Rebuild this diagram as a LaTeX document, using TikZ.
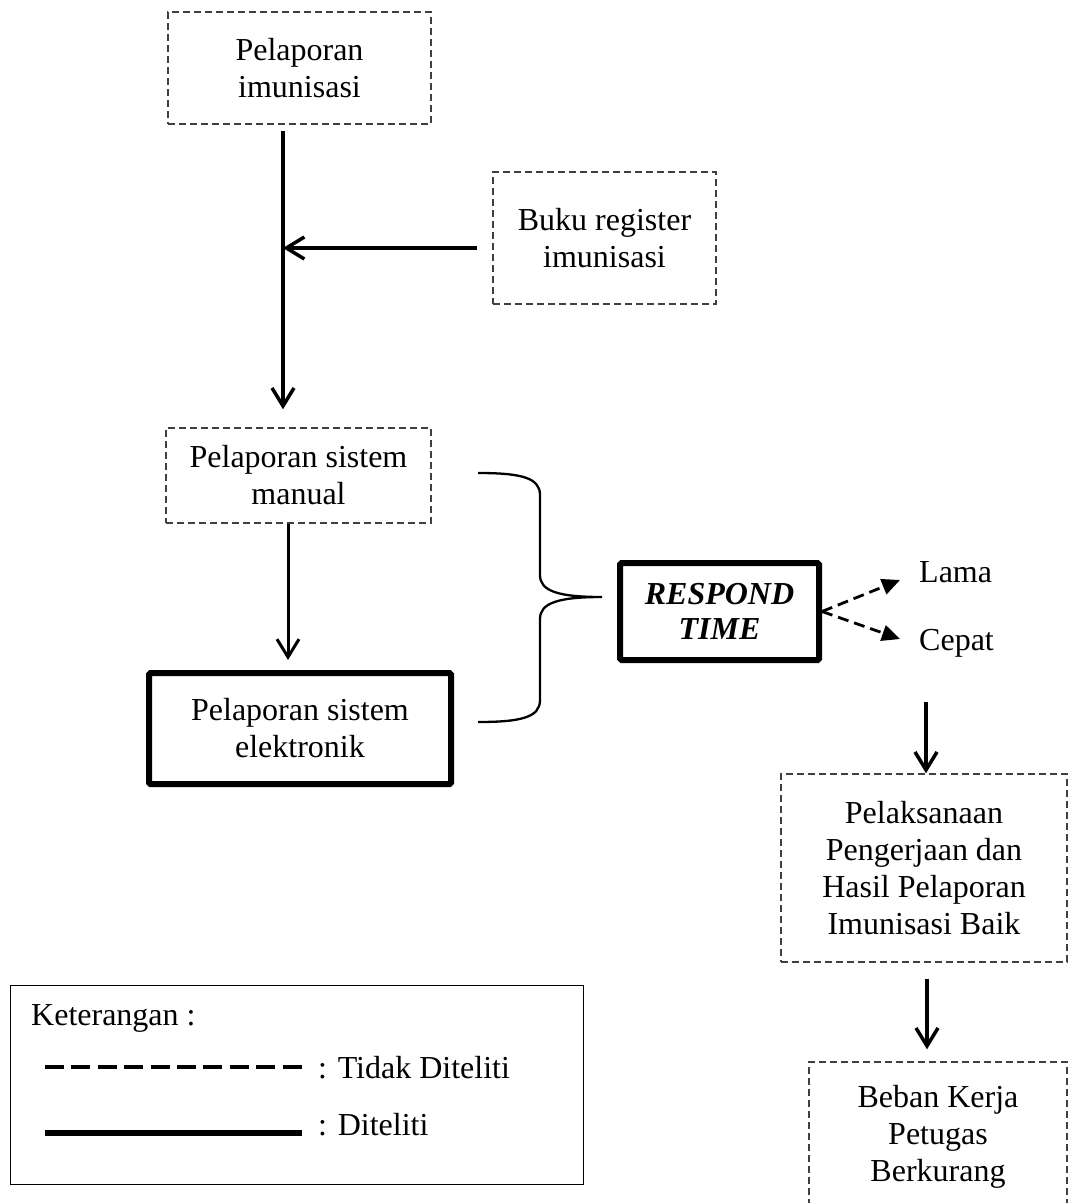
\documentclass[tikz,border=0pt]{standalone}
\usepackage{fontspec}
\setmainfont{Liberation Serif}
\usetikzlibrary{arrows.meta,calc}
\begin{document}
\begin{tikzpicture}[x=1pt,y=-1pt,
  txt/.style={font=\fontsize{32}{37}\selectfont, align=center, inner sep=0pt},
  dbox/.style={txt, draw=black!75, line width=1.4pt, dash pattern=on 7pt off 4pt},
  tbox/.style={txt, draw=black, line width=6pt, rounded corners=1.5pt},
  arr/.style={line width=3.5pt, -{Straight Barb[length=18pt,width=22pt]}},
  darr/.style={line width=2.8pt, dash pattern=on 11pt off 6pt, -{Triangle[length=18pt,width=16pt]}},
  bracestyle/.style={line width=2.3pt}]
\useasboundingbox (0,0) rectangle (1069,1203);
\clip (0,0) rectangle (1069,1203);

% boxes
\node[dbox, minimum width=263pt, minimum height=112pt] (p1) at (299.5,68) {Pelaporan\\imunisasi};
\node[dbox, minimum width=223pt, minimum height=132pt] (buku) at (604.5,238) {Buku register\\imunisasi};
\node[dbox, minimum width=265pt, minimum height=95pt] (p3) at (298.5,475.5) {Pelaporan sistem\\manual};
\node[tbox, minimum width=302pt, minimum height=111pt] (p4) at (300,728.5) {Pelaporan sistem\\elektronik};
\node[tbox, minimum width=199pt, minimum height=97pt, font=\fontsize{32}{35}\selectfont\bfseries\itshape] (resp) at (719.5,611.5) {RESPOND\\TIME};
\node[txt, anchor=base west] (lama) at (919,582) {Lama};
\node[txt, anchor=base west] (cepat) at (919,650) {Cepat};
\node[dbox, minimum width=286pt, minimum height=188pt] (p6) at (924,868) {Pelaksanaan\\Pengerjaan dan\\Hasil Pelaporan\\Imunisasi Baik};
\node[dbox, minimum width=258pt, minimum height=150pt] (p7) at (938,1137) {Beban Kerja\\Petugas\\Berkurang};

% connectors
\coordinate (j) at (283,248);
\draw[arr, shorten <=6pt, shorten >=18pt] (p1.south -| j) -- (p3.north -| j);
\draw[arr, shorten <=15pt] (buku.west |- j) -- (j);
\coordinate (c3) at (288,524);
\draw[arr, line width=3pt, shorten >=10pt] (p3.south -| c3) -- (p4.north -| c3);

% brace
\coordinate (bt) at (478,473);
\coordinate (bb) at (478,722);
\coordinate (btip) at (602,597);
\draw[bracestyle] (bt) .. controls (522,473) and (540,478) .. (540,495) -- (540,575)
  .. controls (540,591) and (558,597) .. (btip)
  .. controls (558,597) and (540,603) .. (540,619) -- (540,700)
  .. controls (540,717) and (522,722) .. (bb);

% dashed arrows
\coordinate (lt) at (900,580);
\coordinate (ct) at (900,639);
\draw[darr] (resp.east) -- (lt);
\draw[darr] (resp.east) -- (ct);

% lower arrows
\coordinate (c6) at (926,702);
\draw[arr] (c6) -- (p6.north -| c6);
\coordinate (c7) at (927,979);
\draw[arr, shorten >=12pt] (c7) -- (p7.north -| c7);

% legend
\node[draw=black, line width=1.3pt, minimum width=573pt, minimum height=199pt, inner sep=0pt] (leg) at (297,1085) {};
\node[txt, anchor=base west] (ket) at (31,1025) {Keterangan :};
\coordinate (d1) at (45,1067);
\coordinate (d2) at (302,1067);
\draw[line width=3.2pt, dash pattern=on 19pt off 7.4pt] (d1) -- (d2);
\node[txt, anchor=base west] (tdk) at (318,1078) {: Tidak Diteliti};
\coordinate (s1) at (45,1133);
\coordinate (s2) at (302,1133);
\draw[line width=6.5pt] (s1) -- (s2);
\node[txt, anchor=base west] (dit) at (318,1135) {: Diteliti};
\end{tikzpicture}
\end{document}
